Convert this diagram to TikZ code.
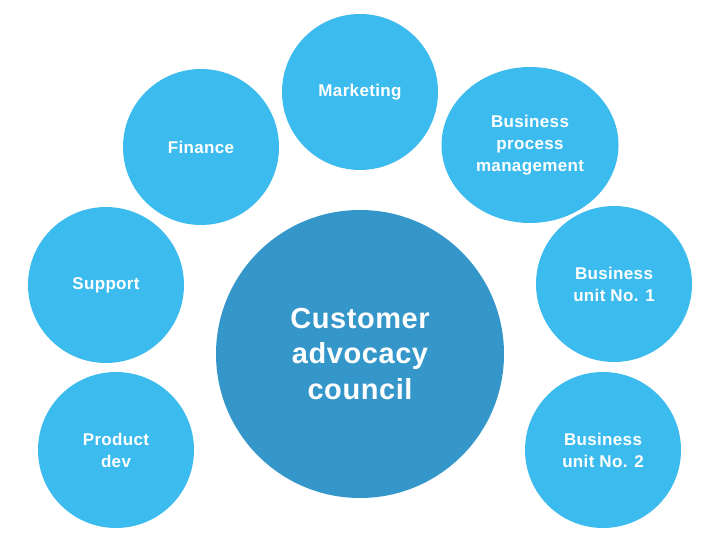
\documentclass[tikz,border=0pt]{standalone}
\usepackage{fontspec}
\setmainfont{Liberation Sans}
\newfontfamily\labelfont[LetterSpace=2]{Liberation Sans Bold}
\usetikzlibrary{shapes.geometric}
\definecolor{lightblue}{RGB}{60,187,238}
\definecolor{darkblue}{RGB}{52,150,201}
\tikzset{
  bubble/.style={circle, fill=lightblue, draw=none, minimum size=156pt, inner sep=0pt,
    text=white, align=center, font=\labelfont\fontsize{17}{22}\selectfont},
  bigbubble/.style={circle, fill=darkblue, draw=none, minimum size=288pt, inner sep=0pt,
    text=white, align=center, font=\labelfont\fontsize{29}{35.5}\selectfont},
}
\begin{document}
\begin{tikzpicture}[x=1pt,y=-1pt]
\useasboundingbox[fill=white] (0,0) rectangle (720,540);
\node[bubble] (marketing) at (360,92) {Marketing};
\node[bubble] (finance) at (201,147) {Finance};
\node[bubble, ellipse, minimum width=177pt, minimum height=156pt] (bpm) at (530,145) {Business\\process\\management};
\node[bubble] (support) at (106,285) {Support};
\node[bubble] (bu1) at (614,284) {Business\\unit No. 1};
\node[bubble] (product) at (116,450) {Product\\dev};
\node[bubble] (bu2) at (603,450) {Business\\unit No. 2};
\node[bigbubble] (cac) at (360,354) {Customer\\advocacy\\council};
\end{tikzpicture}
\end{document}
